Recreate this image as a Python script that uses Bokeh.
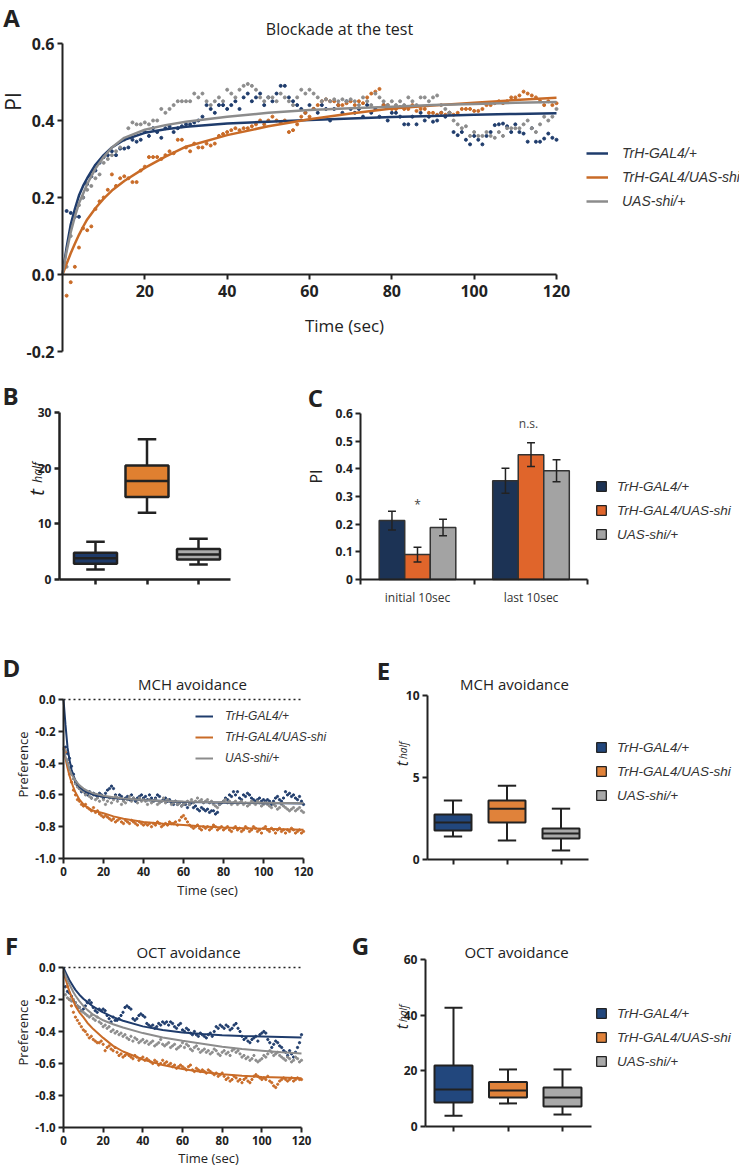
import math
from bokeh.plotting import figure
from bokeh.models import (Range1d, LinearAxis, FixedTicker, Label, Legend, LegendItem,
                          NumeralTickFormatter)
from bokeh.layouts import column, row
from bokeh.embed import file_html
from bokeh.resources import INLINE

SERIES = ["TrH-GAL4/+", "TrH-GAL4/UAS-shi", "UAS-shi/+"]

# ---------------- Panel A : Blockade at the test ----------------
A_time = list(range(1, 121))
A_pi_blue = [
    0.165, 0.16, 0.15, 0.15, 0.20, 0.235, 0.255, 0.27, 0.29, 0.305,
    0.31, 0.32, 0.31, 0.327, 0.327, 0.33, 0.35, 0.345, 0.35, 0.37,
    0.36, 0.38, 0.37, 0.355, 0.38, 0.385, 0.37, 0.38, 0.385, 0.39,
    0.39, 0.395, 0.40, 0.41, 0.44, 0.43, 0.42, 0.44, 0.44, 0.43,
    0.44, 0.45, 0.43, 0.46, 0.47, 0.45, 0.46, 0.47, 0.44, 0.46,
    0.45, 0.47, 0.49, 0.49, 0.46, 0.45, 0.44, 0.43, 0.42, 0.44,
    0.43, 0.42, 0.44, 0.43, 0.40, 0.43, 0.44, 0.42, 0.45, 0.43,
    0.42, 0.43, 0.41, 0.44, 0.42, 0.43, 0.41, 0.44, 0.40, 0.42,
    0.42, 0.41, 0.39, 0.39, 0.41, 0.39, 0.42, 0.40, 0.41, 0.397,
    0.40, 0.42, 0.41, 0.42, 0.37, 0.362, 0.37, 0.35, 0.338, 0.36,
    0.35, 0.338, 0.36, 0.37, 0.388, 0.39, 0.392, 0.385, 0.37, 0.39,
    0.37, 0.366, 0.345, 0.38, 0.345, 0.345, 0.353, 0.366, 0.355, 0.35]
A_pi_orange = [
    -0.055, -0.02, 0.02, 0.07, 0.12, 0.115, 0.125, 0.17, 0.19, 0.20,
    0.22, 0.26, 0.23, 0.25, 0.255, 0.25, 0.24, 0.24, 0.27, 0.28,
    0.305, 0.305, 0.305, 0.30, 0.31, 0.32, 0.315, 0.35, 0.35, 0.33,
    0.32, 0.34, 0.33, 0.33, 0.34, 0.335, 0.34, 0.36, 0.365, 0.37,
    0.375, 0.38, 0.375, 0.38, 0.38, 0.385, 0.39, 0.40, 0.39, 0.40,
    0.41, 0.40, 0.395, 0.40, 0.37, 0.375, 0.39, 0.41, 0.42, 0.41,
    0.43, 0.44, 0.45, 0.455, 0.45, 0.45, 0.44, 0.44, 0.445, 0.45,
    0.44, 0.45, 0.445, 0.46, 0.47, 0.475, 0.482, 0.44, 0.44, 0.43,
    0.43, 0.435, 0.43, 0.43, 0.44, 0.425, 0.43, 0.43, 0.42, 0.42,
    0.415, 0.42, 0.415, 0.42, 0.415, 0.42, 0.43, 0.43, 0.43, 0.425,
    0.425, 0.43, 0.44, 0.44, 0.445, 0.45, 0.445, 0.45, 0.46, 0.46,
    0.465, 0.475, 0.47, 0.465, 0.46, 0.45, 0.44, 0.45, 0.44, 0.445]
A_pi_gray = [
    0.02, 0.10, 0.16, 0.18, 0.20, 0.22, 0.23, 0.25, 0.26, 0.29,
    0.30, 0.31, 0.32, 0.33, 0.35, 0.38, 0.395, 0.39, 0.39, 0.395,
    0.39, 0.40, 0.40, 0.43, 0.42, 0.43, 0.44, 0.45, 0.45, 0.45,
    0.45, 0.47, 0.46, 0.47, 0.45, 0.44, 0.45, 0.46, 0.45, 0.48,
    0.47, 0.46, 0.48, 0.49, 0.495, 0.49, 0.48, 0.46, 0.45, 0.46,
    0.46, 0.45, 0.47, 0.46, 0.45, 0.44, 0.46, 0.48, 0.47, 0.48,
    0.47, 0.46, 0.45, 0.455, 0.45, 0.455, 0.45, 0.455, 0.45, 0.455,
    0.45, 0.44, 0.46, 0.45, 0.44, 0.47, 0.46, 0.45, 0.44, 0.45,
    0.44, 0.45, 0.44, 0.46, 0.45, 0.44, 0.46, 0.46, 0.45, 0.46,
    0.465, 0.44, 0.43, 0.42, 0.40, 0.39, 0.38, 0.385, 0.36, 0.37,
    0.36, 0.36, 0.37, 0.36, 0.355, 0.37, 0.36, 0.38, 0.38, 0.38,
    0.38, 0.39, 0.40, 0.38, 0.37, 0.39, 0.41, 0.40, 0.41, 0.43]
A_fit_time = [0, 1, 2, 3, 4, 5, 6, 8, 10, 12, 15, 20, 25, 30, 40, 50, 60, 70, 80, 90, 100, 110, 120]
A_fit_blue = [0.0, 0.07, 0.13, 0.17, 0.205, 0.23, 0.25, 0.285, 0.31, 0.33, 0.35, 0.368, 0.377,
              0.384, 0.392, 0.397, 0.401, 0.405, 0.409, 0.412, 0.415, 0.417, 0.419]
A_fit_orange = [0.0, 0.028, 0.055, 0.08, 0.103, 0.124, 0.143, 0.172, 0.197, 0.218, 0.243, 0.277,
                0.306, 0.332, 0.362, 0.385, 0.403, 0.418, 0.431, 0.439, 0.446, 0.453, 0.459]
A_fit_gray = [0.0, 0.06, 0.11, 0.15, 0.185, 0.21, 0.235, 0.275, 0.305, 0.33, 0.355, 0.376, 0.388,
              0.397, 0.41, 0.42, 0.427, 0.432, 0.436, 0.44, 0.443, 0.446, 0.448]
A_xticks = [20, 40, 60, 80, 100, 120]
A_yticks = [-0.2, 0.0, 0.2, 0.4, 0.6]

# ---------------- Panel B : t_half boxes ----------------
B_min = [1.8, 12.0, 2.7]
B_q1 = [2.85, 14.8, 3.6]
B_median = [3.8, 17.7, 4.5]
B_q3 = [4.8, 20.5, 5.5]
B_max = [6.8, 25.2, 7.3]
B_yticks = [0, 10, 20, 30]

# ---------------- Panel C : PI bars ----------------
C_groups = ["initial 10sec", "last 10sec"]
C_mean_blue = [0.213, 0.357]
C_err_blue = [0.034, 0.045]
C_mean_orange = [0.09, 0.451]
C_err_orange = [0.027, 0.043]
C_mean_gray = [0.188, 0.393]
C_err_gray = [0.030, 0.040]
C_yticks = [0, 0.1, 0.2, 0.3, 0.4, 0.5, 0.6]
C_marks = ["*", "n.s."]

# ---------------- Panel D : MCH avoidance ----------------
D_time = list(range(1, 121))
D_pref_blue = [
    -0.30, -0.34, -0.37, -0.42, -0.47, -0.52, -0.54, -0.56, -0.58, -0.57,
    -0.59, -0.60, -0.58, -0.62, -0.59, -0.60, -0.61, -0.59, -0.60, -0.62,
    -0.59, -0.57, -0.56, -0.545, -0.56, -0.60, -0.62, -0.60, -0.61, -0.63,
    -0.62, -0.61, -0.63, -0.60, -0.62, -0.64, -0.62, -0.61, -0.60, -0.62,
    -0.61, -0.63, -0.60, -0.62, -0.64, -0.62, -0.60, -0.61, -0.64, -0.63,
    -0.62, -0.64, -0.63, -0.65, -0.66, -0.64, -0.66, -0.65, -0.67, -0.66,
    -0.66, -0.68, -0.66, -0.65, -0.68, -0.67, -0.69, -0.70, -0.68, -0.69,
    -0.70, -0.69, -0.71, -0.70, -0.70, -0.72, -0.71, -0.66, -0.65, -0.64,
    -0.62, -0.63, -0.60, -0.61, -0.58, -0.60, -0.58, -0.62, -0.63, -0.60,
    -0.61, -0.59, -0.60, -0.62, -0.63, -0.64, -0.63, -0.62, -0.64, -0.63,
    -0.64, -0.63, -0.64, -0.66, -0.64, -0.62, -0.61, -0.63, -0.64, -0.62,
    -0.58, -0.60, -0.59, -0.61, -0.60, -0.62, -0.63, -0.61, -0.64, -0.66]
D_pref_orange = [
    -0.33, -0.40, -0.47, -0.52, -0.57, -0.60, -0.63, -0.64, -0.66, -0.67,
    -0.66, -0.68, -0.69, -0.70, -0.68, -0.71, -0.70, -0.72, -0.73, -0.74,
    -0.73, -0.74, -0.75, -0.76, -0.75, -0.77, -0.76, -0.75, -0.77, -0.78,
    -0.76, -0.77, -0.78, -0.76, -0.77, -0.78, -0.79, -0.77, -0.78, -0.79,
    -0.78, -0.79, -0.78, -0.80, -0.78, -0.79, -0.77, -0.78, -0.80, -0.79,
    -0.78, -0.79, -0.77, -0.78, -0.78, -0.77, -0.79, -0.76, -0.74, -0.73,
    -0.75, -0.77, -0.79, -0.80, -0.81, -0.80, -0.79, -0.81, -0.82, -0.80,
    -0.81, -0.80, -0.82, -0.81, -0.79, -0.80, -0.82, -0.81, -0.80, -0.82,
    -0.81, -0.80, -0.82, -0.83, -0.81, -0.80, -0.82, -0.81, -0.83, -0.82,
    -0.80, -0.81, -0.83, -0.82, -0.80, -0.81, -0.83, -0.82, -0.84, -0.81,
    -0.80, -0.82, -0.83, -0.81, -0.82, -0.84, -0.82, -0.81, -0.83, -0.82,
    -0.84, -0.82, -0.83, -0.81, -0.82, -0.84, -0.83, -0.82, -0.84, -0.83]
D_pref_gray = [
    -0.32, -0.38, -0.43, -0.47, -0.50, -0.53, -0.55, -0.56, -0.57, -0.58,
    -0.60, -0.59, -0.61, -0.62, -0.60, -0.63, -0.62, -0.64, -0.61, -0.63,
    -0.66, -0.64, -0.62, -0.65, -0.63, -0.61, -0.64, -0.62, -0.66, -0.64,
    -0.65, -0.63, -0.61, -0.64, -0.62, -0.63, -0.65, -0.62, -0.64, -0.63,
    -0.64, -0.66, -0.63, -0.65, -0.64, -0.63, -0.66, -0.65, -0.64, -0.62,
    -0.65, -0.63, -0.64, -0.66, -0.65, -0.64, -0.66, -0.65, -0.67, -0.66,
    -0.65, -0.64, -0.66, -0.63, -0.65, -0.64, -0.62, -0.64, -0.63, -0.65,
    -0.64, -0.63, -0.65, -0.64, -0.66, -0.67, -0.68, -0.66, -0.65, -0.64,
    -0.63, -0.65, -0.64, -0.66, -0.65, -0.64, -0.66, -0.65, -0.64, -0.66,
    -0.65, -0.67, -0.66, -0.64, -0.65, -0.66, -0.64, -0.65, -0.67, -0.66,
    -0.65, -0.66, -0.67, -0.68, -0.66, -0.67, -0.69, -0.68, -0.66, -0.67,
    -0.68, -0.69, -0.70, -0.69, -0.68, -0.70, -0.69, -0.68, -0.70, -0.71]
D_fit_time = [0, 1, 2, 3, 4, 5, 6, 8, 10, 12, 15, 20, 25, 30, 40, 50, 60, 70, 80, 90, 100, 110, 120]
D_fit_blue = [0.0, -0.16, -0.30, -0.38, -0.44, -0.48, -0.51, -0.55, -0.57, -0.585, -0.60, -0.612,
              -0.62, -0.626, -0.632, -0.638, -0.644, -0.647, -0.649, -0.651, -0.652, -0.653, -0.654]
D_fit_orange = [-0.30, -0.37, -0.43, -0.48, -0.52, -0.555, -0.585, -0.63, -0.66, -0.68, -0.70,
                -0.715, -0.735, -0.75, -0.77, -0.782, -0.79, -0.798, -0.805, -0.809, -0.813,
                -0.816, -0.819]
D_fit_gray = [-0.31, -0.36, -0.40, -0.44, -0.47, -0.49, -0.51, -0.54, -0.56, -0.575, -0.59,
              -0.605, -0.615, -0.622, -0.632, -0.638, -0.642, -0.645, -0.647, -0.649, -0.65,
              -0.651, -0.652]
DF_xticks = [0, 20, 40, 60, 80, 100, 120]
DF_yticks = [-1.0, -0.8, -0.6, -0.4, -0.2, 0.0]

# ---------------- Panel E : MCH t_half ----------------
E_min = [1.4, 1.16, 0.55]
E_q1 = [1.77, 2.26, 1.28]
E_median = [2.26, 3.1, 1.58]
E_q3 = [2.74, 3.6, 1.89]
E_max = [3.6, 4.5, 3.1]
E_yticks = [0, 5, 10]

# ---------------- Panel F : OCT avoidance ----------------
F_time = list(range(1, 121))
F_pref_blue = [
    -0.12, -0.15, -0.16, -0.18, -0.21, -0.22, -0.24, -0.25, -0.27, -0.26,
    -0.24, -0.22, -0.205, -0.22, -0.25, -0.27, -0.28, -0.26, -0.27, -0.26,
    -0.27, -0.30, -0.32, -0.34, -0.31, -0.33, -0.33, -0.32, -0.30, -0.28,
    -0.25, -0.24, -0.25, -0.26, -0.32, -0.33, -0.32, -0.30, -0.29, -0.30,
    -0.31, -0.35, -0.36, -0.37, -0.36, -0.38, -0.37, -0.35, -0.36, -0.34,
    -0.35, -0.34, -0.36, -0.34, -0.35, -0.37, -0.38, -0.36, -0.35, -0.39,
    -0.40, -0.38, -0.39, -0.41, -0.42, -0.40, -0.42, -0.43, -0.41, -0.42,
    -0.43, -0.44, -0.42, -0.41, -0.43, -0.40, -0.37, -0.38, -0.36, -0.37,
    -0.38, -0.36, -0.37, -0.39, -0.38, -0.36, -0.35, -0.38, -0.40, -0.43,
    -0.45, -0.44, -0.46, -0.47, -0.45, -0.44, -0.43, -0.46, -0.42, -0.41,
    -0.40, -0.41, -0.45, -0.47, -0.50, -0.48, -0.46, -0.47, -0.49, -0.50,
    -0.52, -0.53, -0.55, -0.52, -0.54, -0.56, -0.53, -0.50, -0.47, -0.42]
F_pref_orange = [
    -0.06, -0.12, -0.20, -0.24, -0.28, -0.31, -0.33, -0.35, -0.37, -0.39,
    -0.40, -0.42, -0.44, -0.43, -0.45, -0.46, -0.47, -0.47, -0.46, -0.48,
    -0.52, -0.50, -0.49, -0.51, -0.52, -0.50, -0.53, -0.55, -0.54, -0.56,
    -0.55, -0.54, -0.55, -0.56, -0.57, -0.55, -0.56, -0.58, -0.57, -0.56,
    -0.58, -0.57, -0.58, -0.59, -0.60, -0.58, -0.59, -0.61, -0.60, -0.58,
    -0.60, -0.59, -0.61, -0.60, -0.62, -0.61, -0.63, -0.62, -0.61, -0.62,
    -0.63, -0.64, -0.62, -0.61, -0.64, -0.65, -0.63, -0.64, -0.65, -0.64,
    -0.65, -0.66, -0.64, -0.65, -0.66, -0.67, -0.66, -0.68, -0.67, -0.66,
    -0.68, -0.70, -0.69, -0.71, -0.70, -0.68, -0.69, -0.71, -0.70, -0.72,
    -0.70, -0.69, -0.71, -0.72, -0.70, -0.68, -0.67, -0.68, -0.69, -0.70,
    -0.69, -0.70, -0.68, -0.71, -0.72, -0.74, -0.75, -0.73, -0.71, -0.70,
    -0.69, -0.70, -0.71, -0.70, -0.69, -0.71, -0.70, -0.69, -0.70, -0.70]
F_pref_gray = [
    -0.17, -0.19, -0.20, -0.21, -0.20, -0.22, -0.24, -0.25, -0.27, -0.28,
    -0.29, -0.30, -0.31, -0.30, -0.32, -0.33, -0.31, -0.34, -0.35, -0.37,
    -0.36, -0.38, -0.37, -0.40, -0.39, -0.41, -0.40, -0.42, -0.41, -0.43,
    -0.42, -0.44, -0.45, -0.43, -0.46, -0.44, -0.45, -0.47, -0.46, -0.45,
    -0.47, -0.46, -0.48, -0.47, -0.46, -0.49, -0.48, -0.47, -0.45, -0.48,
    -0.49, -0.48, -0.47, -0.50, -0.49, -0.48, -0.51, -0.50, -0.49, -0.47,
    -0.50, -0.48, -0.49, -0.51, -0.52, -0.50, -0.49, -0.51, -0.53, -0.52,
    -0.51, -0.53, -0.52, -0.54, -0.53, -0.51, -0.52, -0.54, -0.55, -0.53,
    -0.52, -0.54, -0.53, -0.55, -0.52, -0.51, -0.53, -0.52, -0.54, -0.56,
    -0.55, -0.57, -0.56, -0.58, -0.57, -0.55, -0.58, -0.59, -0.58, -0.57,
    -0.55, -0.56, -0.54, -0.52, -0.53, -0.55, -0.54, -0.53, -0.55, -0.56,
    -0.57, -0.58, -0.56, -0.57, -0.59, -0.58, -0.56, -0.57, -0.59, -0.58]
F_fit_time = [0, 1, 2, 3, 4, 5, 6, 8, 10, 12, 15, 20, 25, 30, 40, 50, 60, 70, 80, 90, 100, 110, 120]
F_fit_blue = [0.0, -0.03, -0.055, -0.08, -0.10, -0.12, -0.14, -0.17, -0.195, -0.215, -0.245,
              -0.28, -0.31, -0.333, -0.368, -0.39, -0.406, -0.416, -0.423, -0.428, -0.431,
              -0.434, -0.437]
F_fit_orange = [-0.03, -0.07, -0.11, -0.15, -0.18, -0.21, -0.24, -0.28, -0.31, -0.345, -0.385,
                -0.44, -0.49, -0.525, -0.575, -0.61, -0.635, -0.653, -0.667, -0.677, -0.684,
                -0.688, -0.692]
F_fit_gray = [-0.02, -0.05, -0.08, -0.105, -0.13, -0.155, -0.175, -0.21, -0.24, -0.265, -0.295,
              -0.33, -0.355, -0.375, -0.41, -0.437, -0.458, -0.477, -0.496, -0.51, -0.52,
              -0.53, -0.538]

# ---------------- Panel G : OCT t_half ----------------
G_min = [3.9, 8.3, 4.3]
G_q1 = [8.6, 10.4, 7.2]
G_median = [13.3, 12.9, 10.4]
G_q3 = [21.9, 16.0, 14.0]
G_max = [42.7, 20.5, 20.5]
G_yticks = [0, 20, 40, 60]

# ---------------- styling ----------------
LINE_COLORS = ["#1f3c6c", "#c96b27", "#8c8c8c"]
B_COLORS = ["#1e3a68", "#e08030", "#aaaaaa"]
BOX_COLORS = ["#22477d", "#e0823a", "#a9a9a9"]
BAR_COLORS = ["#1c3355", "#e0652b", "#a3a3a3"]
INK = "#222222"


class Panel:
    """A figure whose frame covers its whole canvas; page position (fx, fy)."""

    def __init__(self, fx, fy, W, H, xmap, ymap):
        xa, pxa, xb, pxb = xmap
        sx = (pxb - pxa) / (xb - xa)
        x0 = xa - (pxa - fx) / sx
        ya, pya, yb, pyb = ymap
        sy = (pya - pyb) / (yb - ya)
        ytop = ya + (pya - fy) / sy
        self.fx, self.fy, self.W, self.H = fx, fy, W, H
        self.x0, self.ybot = x0, ytop - H / sy
        self.p = figure(width=W, height=H, x_range=Range1d(x0, x0 + W / sx),
                        y_range=Range1d(ytop - H / sy, ytop), title=None,
                        output_backend="svg", toolbar_location=None,
                        x_axis_type=None, y_axis_type=None, min_border=0,
                        min_border_left=0, min_border_right=0,
                        min_border_top=0, min_border_bottom=0)
        self.p.outline_line_color = None
        self.p.background_fill_color = "white"
        self.p.border_fill_color = "white"

    def sx(self, px):
        return px - self.fx

    def sy(self, py):
        return self.fy + self.H - py

    def text(self, px, py, text, size, style="normal", angle=0.0, color=INK,
             font="Open Sans", align="center", baseline="middle"):
        self.p.add_layout(Label(x=self.sx(px), y=self.sy(py), x_units="screen",
                                y_units="screen", text=text, text_font=font,
                                text_font_size=f"{size}px", text_font_style=style,
                                angle=angle, text_color=color, text_align=align,
                                text_baseline=baseline))

    def thalf(self, base_x, py_t, py_half, big, small):
        # rotated label: glyphs stand on a vertical baseline at base_x
        self.text(base_x, py_t, "t", big, style="italic", angle=math.pi / 2,
                  baseline="alphabetic")
        self.text(base_x + 1, py_half, "half", small, style="italic", angle=math.pi / 2,
                  baseline="alphabetic")

    def legend(self, items, px_left, py_top, gw, gh, standoff, fsize, spacing):
        n = len(items)
        height = n * gh + (n - 1) * spacing
        lg = Legend(items=items, location=(self.sx(px_left), self.sy(py_top + height)),
                    orientation="vertical", glyph_width=gw, glyph_height=gh,
                    label_height=gh, label_standoff=standoff, spacing=spacing,
                    padding=0, margin=0, border_line_color=None, background_fill_alpha=0,
                    label_text_font="Liberation Sans", label_text_font_style="italic",
                    label_text_font_size=fsize, label_text_color="#333333")
        self.p.add_layout(lg)

    def square_legend(self, px_left, py_top, colors):
        # legend swatches: one marker per series placed below the visible range
        items = []
        for name, c in zip(SERIES, colors):
            r = self.p.scatter(x=[self.x0], y=[self.ybot - 1000], marker="square", size=10,
                               fill_color=c, line_color=INK, line_width=1.3)
            items.append(LegendItem(label=name, renderers=[r]))
        self.legend(items, px_left, py_top, 24, 24, 4, "13.5px", 0)


def style_axis(ax, size, lw=2, standoff=3):
    ax.axis_line_color = INK
    ax.axis_line_width = lw
    ax.major_tick_line_color = INK
    ax.major_tick_line_width = lw
    ax.major_tick_in = 0
    ax.major_tick_out = 5
    ax.minor_tick_in = 0
    ax.minor_tick_out = 0
    ax.major_label_text_font = "Open Sans"
    ax.major_label_text_font_style = "bold"
    ax.major_label_text_font_size = f"{size}px"
    ax.major_label_text_color = INK
    ax.major_label_standoff = standoff


def add_axis(p, side, at, bounds, ticks, size, lw=2, standoff=3, **kw):
    ax = LinearAxis(ticker=FixedTicker(ticks=ticks), fixed_location=at, bounds=bounds, **kw)
    style_axis(ax, size, lw, standoff)
    p.add_layout(ax, side)
    return ax


def boxplot(p, lo, q1, med, q3, hi, colors, w, cw, lw):
    xs = [1, 2, 3]
    p.segment(x0=xs, y0=q3, x1=xs, y1=hi, line_color=INK, line_width=lw)
    p.segment(x0=xs, y0=lo, x1=xs, y1=q1, line_color=INK, line_width=lw)
    p.segment(x0=[x - cw / 2 for x in xs], y0=hi, x1=[x + cw / 2 for x in xs], y1=hi,
              line_color=INK, line_width=lw)
    p.segment(x0=[x - cw / 2 for x in xs], y0=lo, x1=[x + cw / 2 for x in xs], y1=lo,
              line_color=INK, line_width=lw)
    p.vbar(x=xs, width=w, bottom=q1, top=q3, fill_color=colors, line_color=INK,
           line_width=lw)
    p.segment(x0=[x - w / 2 for x in xs], y0=med, x1=[x + w / 2 for x in xs], y1=med,
              line_color=INK, line_width=lw)


def box_axes(p, xbounds, ymax, yticks, size, lw=2):
    add_axis(p, "left", xbounds[0], (0, ymax), yticks, size, lw)
    add_axis(p, "below", 0, xbounds, [1, 2, 3], size, lw,
             major_label_overrides={1: "", 2: "", 3: ""})


# ================= Panel A =================
A = Panel(0, 0, 739, 365, (0, 62, 120, 556), (0.0, 274, 0.6, 43))
pA = A.p
add_axis(pA, "left", 0, (-0.2, 0.6), A_yticks, 16,
         formatter=NumeralTickFormatter(format="0.0"))
add_axis(pA, "below", 0, (0, 120), A_xticks, 16, standoff=5)
for pts, c in zip([A_pi_blue, A_pi_orange, A_pi_gray], LINE_COLORS):
    pA.scatter(A_time, pts, size=3, color=c)
itemsA = []
for name, fit, c in zip(SERIES, [A_fit_blue, A_fit_orange, A_fit_gray], LINE_COLORS):
    r = pA.line(A_fit_time, fit, line_color=c, line_width=2.5)
    itemsA.append(LegendItem(label=name, renderers=[r]))
A.legend(itemsA, 586, 143, 22, 20, 14, "14px", 4)
A.text(11, 17, "A", 24, style="bold")
A.text(339, 28, "Blockade at the test", 16)
A.text(12, 101, "PI", 21, angle=math.pi / 2)
A.text(344, 325, "Time (sec)", 17)

# ================= Panel B =================
B = Panel(0, 365, 300, 265, (1, 95, 3, 198), (0, 579, 30, 412))
box_axes(B.p, (0.30, 3.62), 30, B_yticks, 12, lw=2.5)
boxplot(B.p, B_min, B_q1, B_median, B_q3, B_max, B_COLORS, 0.835, 0.36, 2.5)
B.text(10, 395, "B", 24, style="bold")
B.thalf(36, 492, 472, 20, 12)

# ================= Panel C =================
C = Panel(300, 365, 439, 265, (0, 417, 1, 530.5), (0, 579, 0.6, 413))
pC = C.p
add_axis(pC, "left", -0.5, (0, 0.6), C_yticks, 12,
         major_label_overrides={0: "0", 0.1: "0.1", 0.2: "0.2", 0.3: "0.3",
                                0.4: "0.4", 0.5: "0.5", 0.6: "0.6"})
xc = LinearAxis(ticker=FixedTicker(ticks=[0, 1], minor_ticks=[-0.5, 0.5, 1.5]),
                fixed_location=0, bounds=(-0.5, 1.5),
                major_label_overrides={0: C_groups[0], 1: C_groups[1]})
style_axis(xc, 12)
xc.major_tick_out = 0
xc.minor_tick_out = 5
xc.minor_tick_line_color = INK
xc.minor_tick_line_width = 2
xc.major_label_text_font_style = "normal"
xc.major_label_text_color = "#333333"
xc.major_label_standoff = 4
pC.add_layout(xc, "below")
bw = 0.225
for k, (means, errs, c) in enumerate(zip([C_mean_blue, C_mean_orange, C_mean_gray],
                                         [C_err_blue, C_err_orange, C_err_gray], BAR_COLORS)):
    xs = [g + (k - 1) * bw for g in range(len(C_groups))]
    pC.vbar(x=xs, width=bw, top=means, bottom=0, fill_color=c, line_color="#333333",
            line_width=1.5)
    lo = [m - e for m, e in zip(means, errs)]
    hi = [m + e for m, e in zip(means, errs)]
    pC.segment(x0=xs, y0=lo, x1=xs, y1=hi, line_color=INK, line_width=1.5)
    pC.segment(x0=[x - 0.035 for x in xs], y0=hi, x1=[x + 0.035 for x in xs], y1=hi,
               line_color=INK, line_width=1.5)
    pC.segment(x0=[x - 0.035 for x in xs], y0=lo, x1=[x + 0.035 for x in xs], y1=lo,
               line_color=INK, line_width=1.5)
C.square_legend(589, 474, BAR_COLORS)
C.text(315, 397, "C", 24, style="bold")
C.text(315, 476, "PI", 16, angle=math.pi / 2)
C.text(417, 504, C_marks[0], 12, color="#444444")
C.text(528, 423, C_marks[1], 12, color="#444444")


# ================= Panels D and F =================
def pref_panel(fx, fy, W, H, px0, px120, py0, py1, pts3, fits3, fit_t, t):
    P = Panel(fx, fy, W, H, (0, px0, 120, px120), (0, py0, -1, py1))
    p = P.p
    add_axis(p, "left", 0, (-1, 0), DF_yticks, 11.5,
             formatter=NumeralTickFormatter(format="0.0"))
    add_axis(p, "below", -1, (0, 120), DF_xticks, 11.5)
    p.segment(x0=[0], y0=[0], x1=[120], y1=[0], line_color=INK, line_width=1.5,
              line_dash="2 3")
    for pts, c in zip(pts3, LINE_COLORS):
        p.scatter(t, pts, size=2.3, color=c)
    rs = []
    for fit, c in zip(fits3, LINE_COLORS):
        rs.append(p.line(fit_t, fit, line_color=c, line_width=2))
    return P, rs


D, rD = pref_panel(0, 630, 370, 270, 63, 303, 699, 858,
                   [D_pref_blue, D_pref_orange, D_pref_gray],
                   [D_fit_blue, D_fit_orange, D_fit_gray], D_fit_time, D_time)
D.legend([LegendItem(label=n, renderers=[r]) for n, r in zip(SERIES, rD)],
         195, 707, 18, 18, 12, "12px", 3)
D.text(11, 667, "D", 24, style="bold")
D.text(192, 683, "MCH avoidance", 15)
D.text(22, 764, "Preference", 13, angle=math.pi / 2)
D.text(207, 889, "Time (sec)", 13)

F, rF = pref_panel(0, 900, 370, 266, 63, 301, 967, 1127,
                   [F_pref_blue, F_pref_orange, F_pref_gray],
                   [F_fit_blue, F_fit_orange, F_fit_gray], F_fit_time, F_time)
F.text(11, 945, "F", 24, style="bold")
F.text(188, 951, "OCT avoidance", 15)
F.text(22, 1032, "Preference", 13, angle=math.pi / 2)
F.text(208, 1157, "Time (sec)", 13)
F.text(360, 945, "G", 24, style="bold")

# ================= Panel E =================
E = Panel(370, 630, 369, 270, (1, 452.5, 3, 560.5), (0, 859, 10, 695))
box_axes(E.p, (0.528, 3.509), 10, E_yticks, 12)
boxplot(E.p, E_min, E_q1, E_median, E_q3, E_max, BOX_COLORS, 0.685, 0.34, 2)
E.square_legend(589, 735, BOX_COLORS)
E.text(383, 670, "E", 24, style="bold")
E.text(514, 683, "MCH avoidance", 15)
E.thalf(401, 763, 750, 16, 10)

# ================= Panel G =================
G = Panel(370, 900, 369, 266, (1, 453, 3, 562), (0, 1126, 60, 959))
box_axes(G.p, (0.486, 3.532), 60, G_yticks, 12)
boxplot(G.p, G_min, G_q1, G_median, G_q3, G_max, BOX_COLORS, 0.697, 0.33, 2)
G.square_legend(589, 1001, BOX_COLORS)
G.text(516, 951, "OCT avoidance", 15)
G.thalf(401, 1026, 1013, 16, 10)

layout = column(A.p, row(B.p, C.p), row(D.p, E.p), row(F.p, G.p))
open("out.html", "w").write(file_html(layout, INLINE))
